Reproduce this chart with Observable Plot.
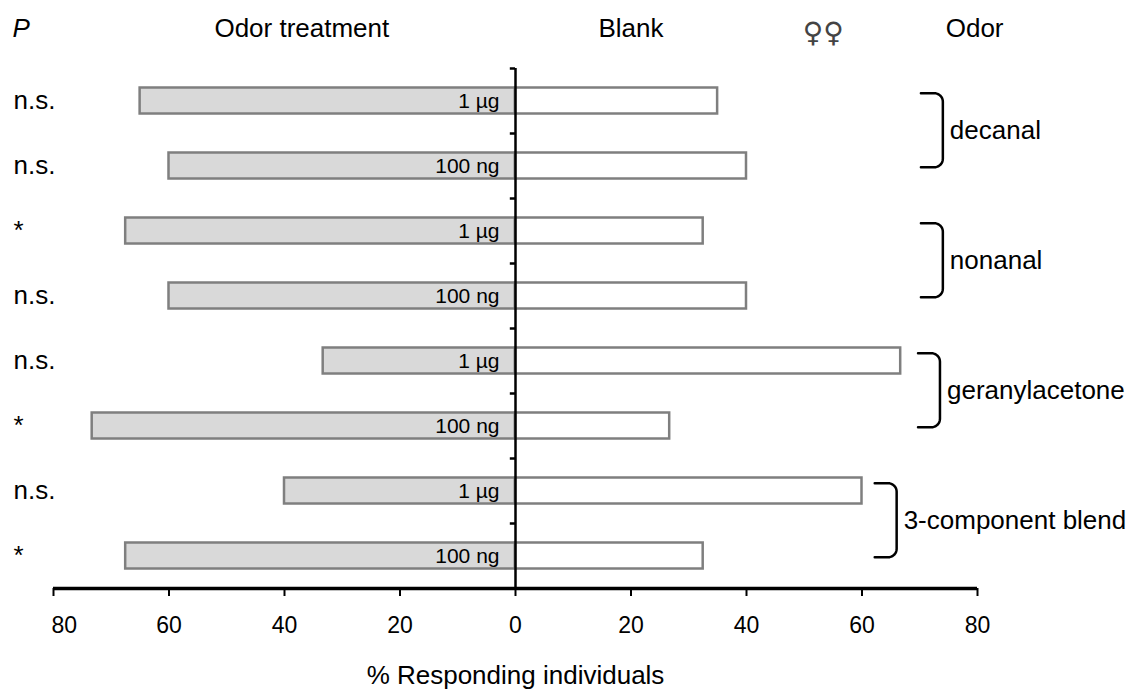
<!DOCTYPE html>
<html><head><meta charset="utf-8">
<script src="https://cdn.jsdelivr.net/npm/d3@7"></script>
<script src="https://cdn.jsdelivr.net/npm/@observablehq/plot@0.6"></script>
<style>
html,body{margin:0;padding:0;background:#fff}
#chart svg{display:block}
</style>
</head><body><div id="chart"></div>
<script>
// ---- data ----
const rowIds = [1, 2, 3, 4, 5, 6, 7, 8];
const doses = ["1 µg", "100 ng", "1 µg", "100 ng", "1 µg", "100 ng", "1 µg", "100 ng"];
const odorPct = [65, 60, 67.5, 60, 33.3, 73.3, 40, 67.5];
const blankPct = [35, 40, 32.5, 40, 66.7, 26.7, 60, 32.5];
const pLabels = ["n.s.", "n.s.", "*", "n.s.", "n.s.", "*", "n.s.", "*"];
const compounds = ["decanal", "nonanal", "geranylacetone", "3-component blend"];
const compoundRows = [[1, 2], [3, 4], [5, 6], [7, 8]];
const bracketX = [74, 74, 73.5, 66];
const xTicks = [-80, -60, -40, -20, 0, 20, 40, 60, 80];
const headerLabels = ["Odor treatment", "Blank", "Odor"];
const headerX = [-37, 20, 79.5];
const symbolLabel = "♀♀";
const symbolX = 53.3;
const axisTitle = "% Responding individuals";

// ---- derived tables ----
const rows = rowIds.map((r, i) => ({row: r, dose: doses[i], odor: odorPct[i], blank: blankPct[i], p: pLabels[i]}));
const bounds = d3.range(0.5, 8, 1);
const headers = headerLabels.map((t, i) => ({t, x: headerX[i]}));

const rx = 1.5, ry = 0.13, w = 3.8;
const bracketPts = [];
const bracketLabels = [];
compounds.forEach((name, g) => {
  const x = bracketX[g];
  const yT = compoundRows[g][0] - 0.12;
  const yB = compoundRows[g][1] + 0.02;
  const pts = [[x - w, yT], [x - rx, yT]];
  for (let k = 1; k <= 8; k++) { const a = -Math.PI / 2 + k * Math.PI / 16; pts.push([x - rx + rx * Math.cos(a), yT + ry + ry * Math.sin(a)]); }
  pts.push([x, yB - ry]);
  for (let k = 1; k <= 8; k++) { const a = k * Math.PI / 16; pts.push([x - rx + rx * Math.cos(a), yB - ry + ry * Math.sin(a)]); }
  pts.push([x - w, yB]);
  pts.forEach(([px, py]) => bracketPts.push({g, x: px, y: py}));
  bracketLabels.push({name, x, y: (yT + yB) / 2});
});

const font = "'Liberation Sans', Arial, Helvetica, sans-serif";
const chart = Plot.plot({
  width: 1134,
  height: 690,
  marginTop: 68,
  marginBottom: 102,
  marginLeft: 53,
  marginRight: 157,
  style: {fontFamily: font, background: "#fff", color: "#000", overflow: "visible"},
  x: {domain: [-80, 80], axis: null, label: null},
  y: {domain: [0.5, 8.5], reverse: true, axis: null, label: null},
  marks: [
    Plot.rect(rows, {x1: d => -d.odor, x2: 0, y1: d => d.row - 0.2, y2: d => d.row + 0.2, fill: "#d9d9d9", stroke: "#7f7f7f", strokeWidth: 2.5}),
    Plot.rect(rows, {x1: 0, x2: d => d.blank, y1: d => d.row - 0.2, y2: d => d.row + 0.2, fill: "#ffffff", stroke: "#7f7f7f", strokeWidth: 2.5}),
    Plot.ruleY(bounds, {x1: 0, x2: -0.9, stroke: "#000", strokeWidth: 2.5}),
    Plot.ruleX([0], {y1: 0.5, y2: 8.5, stroke: "#000", strokeWidth: 2.5}),
    Plot.ruleY([8.5], {x1: -80, x2: 80, stroke: "#000", strokeWidth: 3.5}),
    Plot.axisX({ticks: xTicks, tickFormat: () => "", tickSize: 8, stroke: "#000", strokeWidth: 2, anchor: "bottom", label: null}),
    Plot.axisX({ticks: xTicks.slice(1), tickSize: 0, tickFormat: d => Math.abs(d), tickPadding: 28, fontSize: 23, fill: "#000", anchor: "bottom", label: null}),
    Plot.axisX({ticks: xTicks.slice(0, 1), tickSize: 0, tickFormat: d => Math.abs(d), tickPadding: 28, fontSize: 23, fill: "#000", anchor: "bottom", textAnchor: "start", dx: -2, label: null}),
    Plot.text(rows, {x: 0, y: "row", text: "dose", textAnchor: "end", dx: -16, fontSize: 21, fill: "#000"}),
    Plot.text(rows, {y: "row", text: "p", frameAnchor: "left", textAnchor: "start", dx: -40, fontSize: 26, fill: "#000"}),
    Plot.line(bracketPts, {x: "x", y: "y", z: "g", stroke: "#000", strokeWidth: 2.5, curve: "linear"}),
    Plot.text(bracketLabels, {x: "x", y: "y", text: "name", textAnchor: "start", dx: 7, fontSize: 26, fill: "#000"}),
    Plot.text(headers, {x: "x", text: "t", frameAnchor: "top", lineAnchor: "middle", dy: -40, fontSize: 26, fill: "#000"}),
    Plot.text([symbolLabel], {x: symbolX, frameAnchor: "top", lineAnchor: "middle", dy: -35, fontSize: 28, fontFamily: "'DejaVu Sans', sans-serif", fill: "#444"}),
    Plot.text(["P"], {frameAnchor: "top-left", lineAnchor: "middle", textAnchor: "start", dx: -41, dy: -40, fontSize: 26, fontStyle: "italic", fill: "#000"}),
    Plot.text([axisTitle], {frameAnchor: "bottom", lineAnchor: "middle", dy: 87, fontSize: 26, fill: "#000"})
  ]
});
document.getElementById("chart").appendChild(chart);
</script>
</body></html>
